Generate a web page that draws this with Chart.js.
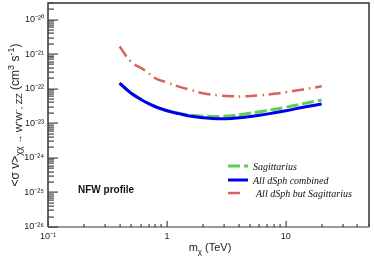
<!DOCTYPE html>
<html>
<head>
<meta charset="utf-8">
<script src="https://cdn.jsdelivr.net/npm/chart.js@4.4.1/dist/chart.umd.min.js"></script>
<style>
    html, body { margin: 0; padding: 0; background: #fff; }
    #wrap { width: 374px; height: 267px; }
</style>
</head>
<body>
<div id="wrap"><canvas id="limitChart" width="374" height="267"></canvas></div>
<script>
// dark matter mass (TeV)
const massTeV = [0.4, 0.5, 0.66, 0.8, 1.0, 1.26, 1.6, 2.0, 2.7, 3.5, 4.5, 6.0, 8.0, 10, 14, 20];

// <sigma v> limits (cm^3 s^-1)
const sagittarius = [1.45e-22, 7.5e-23, 4.2e-23, 3.05e-23, 2.35e-23, 1.95e-23, 1.7e-23, 1.6e-23, 1.58e-23, 1.65e-23, 1.85e-23, 2.15e-23, 2.55e-23, 2.9e-23, 3.7e-23, 4.7e-23];
const allCombined = [1.45e-22, 7.4e-23, 4.1e-23, 3.0e-23, 2.3e-23, 1.9e-23, 1.6e-23, 1.45e-23, 1.35e-23, 1.38e-23, 1.5e-23, 1.7e-23, 2.0e-23, 2.3e-23, 2.9e-23, 3.6e-23];
const allButSag = [1.65e-21, 6.0e-22, 3.3e-22, 2.0e-22, 1.5e-22, 1.15e-22, 9.1e-23, 7.4e-23, 6.4e-23, 6.05e-23, 6.0e-23, 6.4e-23, 7.1e-23, 7.9e-23, 9.5e-23, 1.17e-22];

const seriesNames = ['Sagittarius', 'All dSph combined', 'All dSph but Sagittarius'];
const yExponents = [-26, -25, -24, -23, -22, -21, -20];
const xExponents = [-1, 0, 1];
const xTickLabels = ['10⁻¹', '1', '10'];
const yMin = 1e-26, yMax = 3e-20;
const xMin = 0.1, xMax = 50;

const supMap = { '-': '⁻', '0': '⁰', '1': '¹', '2': '²', '3': '³', '4': '⁴', '5': '⁵', '6': '⁶', '7': '⁷', '8': '⁸', '9': '⁹' };

function isDecade(v) {
    var l = Math.log10(v);
    return Math.abs(l - Math.round(l)) < 1e-6;
}

function toPoints(ys) {
    return massTeV.map((m, i) => ({ x: m, y: ys[i] }));
}

// 1..9 x 10^e for every decade, up to max
function decadeTicks(exps, max) {
    var out = [];
    exps.forEach(function (e) {
        for (var s = 1; s <= 9; s++) {
            var v = s * Math.pow(10, e);
            if (v <= max * 1.0001) out.push({ value: v });
        }
    });
    return out;
}

// text with sub/superscripts, parts = [{t, s, dy}]
function drawRich(ctx, parts, x, y) {
    var total = 0;
    parts.forEach(function (p) {
        ctx.font = p.s + 'px "Liberation Sans", Arial, sans-serif';
        p.w = ctx.measureText(p.t).width;
        total += p.w;
    });
    var cx = x - total / 2;
    parts.forEach(function (p) {
        ctx.font = p.s + 'px "Liberation Sans", Arial, sans-serif';
        ctx.fillText(p.t, cx, y + (p.dy || 0));
        cx += p.w;
    });
}

const rootFrame = {
    id: 'rootFrame',
    afterDraw: function (chart) {
        const ctx = chart.ctx;
        const area = chart.chartArea;
        const xs = chart.scales.x;
        const ys = chart.scales.y;
        ctx.save();
        ctx.setLineDash([]);

        // frame
        ctx.strokeStyle = '#333';
        ctx.lineWidth = 1.5;
        ctx.beginPath();
        ctx.moveTo(area.left, area.bottom);
        ctx.lineTo(area.left, area.top);
        ctx.lineTo(area.right, area.top);
        ctx.lineTo(area.right, area.bottom);
        ctx.stroke();
        ctx.strokeStyle = '#999';
        ctx.lineWidth = 2;
        ctx.beginPath();
        ctx.moveTo(area.left, area.bottom);
        ctx.lineTo(area.right, area.bottom);
        ctx.stroke();

        // inward ticks, left axis
        ctx.fillStyle = '#444';
        decadeTicks(yExponents, yMax).forEach(function (t) {
            var py = Math.round(ys.getPixelForValue(t.value));
            var len = isDecade(t.value) ? 10 : 6;
            ctx.fillRect(area.left, py - 0.5, len, 1.2);
        });
        // bottom axis
        decadeTicks(xExponents, xMax).forEach(function (t) {
            var px = Math.round(xs.getPixelForValue(t.value));
            var len = isDecade(t.value) ? 6 : 3;
            ctx.fillRect(px - 0.5, area.bottom - len, 1.2, len);
        });

        // label inside the frame
        ctx.fillStyle = '#111';
        ctx.font = 'bold 10px "Liberation Sans", Arial, sans-serif';
        ctx.textBaseline = 'alphabetic';
        ctx.textAlign = 'left';
        ctx.fillText('NFW profile', 78, 193);

        // legend
        var rows = [166, 180, 193];
        var legendOrder = [0, 1, 2];
        legendOrder.forEach(function (di, r) {
            var ds = chart.data.datasets[di];
            ctx.strokeStyle = ds.borderColor;
            ctx.lineWidth = ds.borderWidth;
            ctx.setLineDash(ds.borderDash || []);
            ctx.beginPath();
            ctx.moveTo(228, rows[r]);
            ctx.lineTo(r === 2 ? 242 : 248, rows[r]);
            ctx.stroke();
            ctx.setLineDash([]);
            ctx.fillStyle = '#111';
            ctx.font = 'italic 10px "Liberation Serif", "Times New Roman", serif';
            ctx.fillText(ds.label, r === 2 ? 256 : 253, rows[r] + 3.5);
        });

        // axis titles
        ctx.fillStyle = '#222';
        drawRich(ctx, [
            { t: 'm', s: 11 },
            { t: 'χ', s: 8, dy: 3 },
            { t: ' (TeV)', s: 11 }
        ], 210, 251);

        ctx.translate(19, 115);
        ctx.rotate(-Math.PI / 2);
        drawRich(ctx, [
            { t: '<σ v>', s: 12 },
            { t: 'χχ → W⁺W⁻, ZZ', s: 9, dy: 3 },
            { t: ' (cm', s: 12 },
            { t: '3', s: 9, dy: -5 },
            { t: ' s', s: 12 },
            { t: '-1', s: 9, dy: -5 },
            { t: ')', s: 12 }
        ], 0, 0);

        ctx.restore();
    }
};

const ctx = document.getElementById('limitChart').getContext('2d');

new Chart(ctx, {
    type: 'line',
    data: {
        datasets: [{
            label: seriesNames[0],
            data: toPoints(sagittarius),
            borderColor: '#5ccf54',
            borderWidth: 3,
            borderDash: [12, 4],
            order: 1
        }, {
            label: seriesNames[1],
            data: toPoints(allCombined),
            borderColor: '#0000ee',
            borderWidth: 3,
            order: 0
        }, {
            label: seriesNames[2],
            data: toPoints(allButSag),
            borderColor: '#d9635b',
            borderWidth: 2.5,
            borderDash: [12, 5, 1.5, 5],
            order: 2
        }]
    },
    options: {
        responsive: false,
        animation: false,
        devicePixelRatio: 1,
        elements: {
            point: { radius: 0 },
            line: { tension: 0.4 }
        },
        layout: { padding: { top: 3, right: 5, left: 0, bottom: 0 } },
        plugins: {
            legend: { display: false }, // drawn in rootFrame
            tooltip: { enabled: false }
        },
        scales: {
            x: {
                type: 'logarithmic',
                min: xMin,
                max: xMax,
                grid: { display: false, drawTicks: false },
                border: { display: false },
                afterFit: function (scale) {
                    scale.height = 40;
                    scale.paddingLeft = 0;
                    scale.paddingRight = 0;
                },
                afterBuildTicks: function (scale) { scale.ticks = decadeTicks(xExponents, xMax); },
                ticks: {
                    autoSkip: false,
                    maxRotation: 0,
                    padding: 4,
                    color: '#222',
                    font: { family: '"Liberation Sans", Arial, sans-serif', size: 9 },
                    callback: function (value) {
                        if (!isDecade(value)) return '';
                        var i = xExponents.indexOf(Math.round(Math.log10(value)));
                        return i >= 0 ? xTickLabels[i] : '';
                    }
                }
            },
            y: {
                type: 'logarithmic',
                min: yMin,
                max: yMax,
                grid: { display: false, drawTicks: false },
                border: { display: false },
                afterFit: function (scale) {
                    scale.width = 48;
                    scale.paddingTop = 0;
                    scale.paddingBottom = 0;
                },
                afterBuildTicks: function (scale) { scale.ticks = decadeTicks(yExponents, yMax); },
                ticks: {
                    autoSkip: false,
                    padding: 4,
                    color: '#222',
                    font: { family: '"Liberation Sans", Arial, sans-serif', size: 9 },
                    callback: function (value) {
                        if (!isDecade(value)) return '';
                        var e = String(Math.round(Math.log10(value)));
                        return '10' + e.split('').map(c => supMap[c]).join('');
                    }
                }
            }
        }
    },
    plugins: [rootFrame]
});
</script>
</body>
</html>
